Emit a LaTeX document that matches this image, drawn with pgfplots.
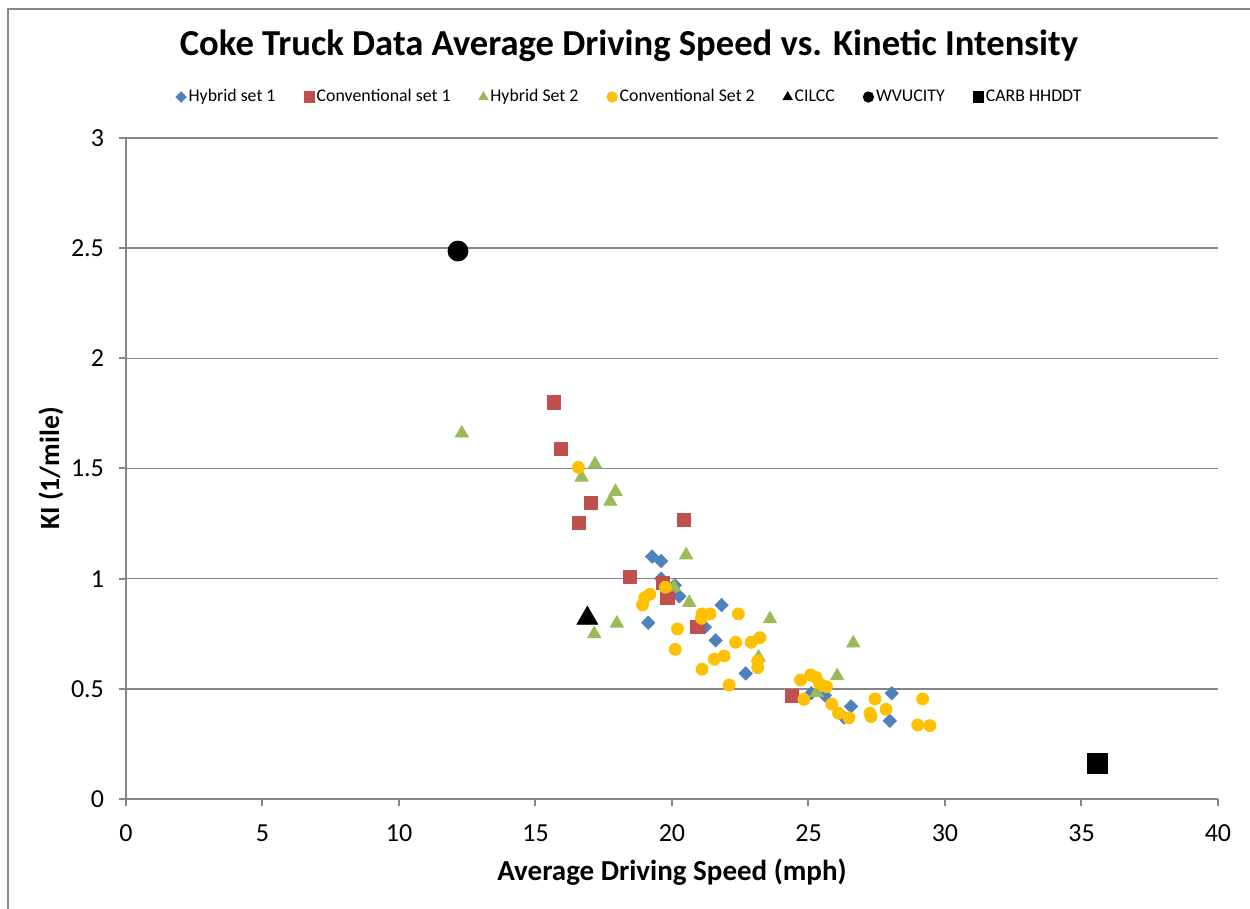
\documentclass[border=0pt]{standalone}
\usepackage{pgfplots}
\pgfplotsset{compat=1.18}
\usepackage{fontspec}
\setmainfont{Carlito}
\definecolor{hybA}{HTML}{4F81BD}
\definecolor{convA}{HTML}{C0504D}
\definecolor{hybB}{HTML}{9BBB59}
\definecolor{convB}{HTML}{FFC000}
\definecolor{axgray}{RGB}{134,134,134}

\begin{document}
\begin{tikzpicture}[x=0.5pt,y=0.5pt]
\useasboundingbox (0,0) rectangle (1250,909);
\begin{scope}
\clip (0,0) rectangle (1250,909);
\draw[axgray, line width=1pt] (8,-10) -- (8,900) -- (1270,900);
\end{scope}
\node[font=\bfseries\fontsize{18.3}{21}\selectfont] at (629,863) {Coke Truck Data Average Driving Speed vs. Kinetic Intensity};
\begin{axis}[
    at={(63pt,55pt)}, anchor=south west,
    scale only axis, width=546pt, height=330.5pt,
    xmin=0, xmax=40, ymin=0, ymax=3,
    xtick={0,5,...,40}, ytick={0,0.5,...,3},
    axis x line*=bottom, axis y line*=left,
    axis line style={axgray, line width=1pt},
    tick align=outside, major tick length=3.5pt,
    tick style={axgray, line width=1pt},
    ymajorgrids, grid style={axgray, line width=0.8pt},
    /pgf/number format/assume math mode=true,
    ticklabel style={font=\fontsize{13}{15}\selectfont},
    xticklabel style={yshift=-6pt},
    yticklabel style={xshift=-4pt},
    xlabel={Average Driving Speed (mph)},
    ylabel={KI (1/mile)},
    xlabel style={font=\bfseries\fontsize{14.5}{17}\selectfont,
        at={(0.5,0)}, anchor=center, yshift=-36.5pt},
    ylabel style={font=\bfseries\fontsize{13.9}{17}\selectfont,
        at={(0,0.5)}, anchor=center, yshift=37.5pt},
    legend columns=-1,
    legend style={draw=none, fill=none, at={(0.4615,1.062)}, anchor=center,
        font=\fontsize{8.9}{11}\selectfont,
        nodes={inner sep=1.2pt},
        /tikz/every even column/.append style={column sep=13pt}},
    legend image code/.code={\draw[#1, mark size=2.6pt] plot coordinates {(0cm,0cm)};},
]
\addplot[only marks, mark=diamond*, mark size=3.3pt, mark options={xscale=1.33, draw=hybA, fill=hybA}]
  coordinates {(19.27,1.10) (19.6,1.08) (19.6,1.00) (20.1,0.97) (20.27,0.92) (19.13,0.80)
  (21.82,0.88) (21.2,0.78) (21.6,0.72) (22.7,0.57) (25.1,0.48) (25.6,0.47)
  (26.56,0.42) (26.3,0.37) (28.05,0.48) (27.98,0.355)};
\addlegendentry{Hybrid set 1}
\addplot[only marks, mark=square*, mark size=3.3pt, mark options={draw=convA, fill=convA}]
  coordinates {(15.68,1.80) (15.93,1.59) (17.03,1.343) (16.6,1.253) (20.44,1.266)
  (18.46,1.008) (19.68,0.979) (19.83,0.914) (20.93,0.782) (24.4,0.468)};
\addlegendentry{Conventional set 1}
\addplot[only marks, mark=triangle*, mark size=3.8pt, mark options={draw=hybB, fill=hybB}]
  coordinates {(12.3,1.66) (17.18,1.52) (16.69,1.46) (17.93,1.395) (17.74,1.35)
  (20.52,1.107) (20.08,0.961) (20.63,0.891) (17.98,0.797) (17.15,0.749)
  (23.59,0.817) (23.17,0.643) (26.64,0.707) (26.05,0.558) (25.3,0.483)};
\addlegendentry{Hybrid Set 2}
\addplot[only marks, mark=*, mark size=3pt, mark options={draw=convB, fill=convB}]
  coordinates {(16.57,1.505) (19.76,0.961) (19.19,0.929) (19.0,0.914) (18.92,0.881)
  (20.2,0.772) (20.12,0.679) (21.1,0.84) (21.39,0.84) (21.08,0.82) (22.43,0.84)
  (22.33,0.711) (22.9,0.711) (23.22,0.732) (23.14,0.626) (23.14,0.596)
  (21.55,0.634) (21.91,0.649) (21.1,0.589) (22.09,0.517)
  (24.71,0.54) (25.08,0.563) (25.27,0.552) (25.4,0.525) (25.66,0.51) (24.83,0.452)
  (25.85,0.431) (26.1,0.389) (26.48,0.369) (27.44,0.454) (27.25,0.389) (27.29,0.374)
  (27.84,0.407) (29.18,0.454) (29.0,0.336) (29.45,0.333)};
\addlegendentry{Conventional Set 2}
\addplot[only marks, mark=triangle*, mark size=6pt, mark options={draw=black, fill=black}]
  coordinates {(16.9,0.82)};
\addlegendentry{CILCC}
\addplot[only marks, mark=*, mark size=5pt, mark options={draw=black, fill=black}]
  coordinates {(12.16,2.487)};
\addlegendentry{WVUCITY}
\addplot[only marks, mark=square*, mark size=5pt, mark options={draw=black, fill=black}]
  coordinates {(35.6,0.163)};
\addlegendentry{CARB HHDDT}
\end{axis}
\end{tikzpicture}
\end{document}
